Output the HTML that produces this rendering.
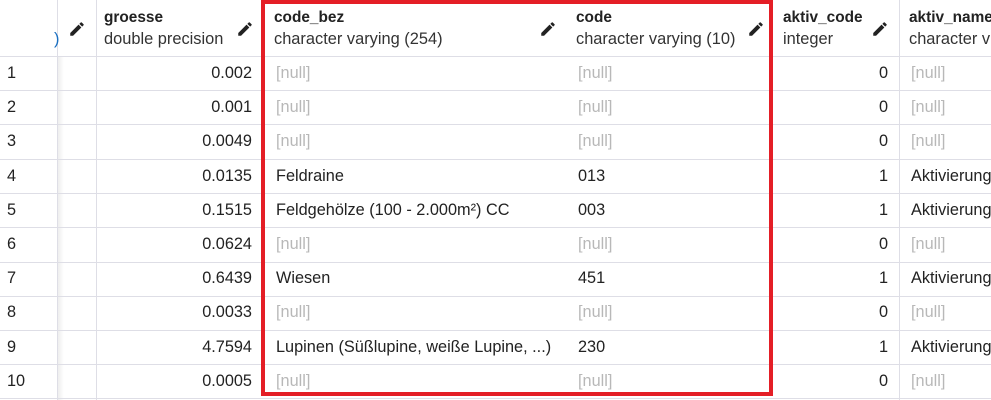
<!DOCTYPE html>
<html><head><meta charset="utf-8"><style>
body{margin:0;width:991px;height:400px;overflow:hidden;background:#fff;font-family:"Liberation Sans",Arial,sans-serif;position:relative;color:#222}
.a{position:absolute;white-space:nowrap}
.h{left:0;width:991px;height:1px;background:#dedee6}
.v{top:0;height:400px;width:1px;background:#dedee6}
.t{font-size:15.4px;font-weight:bold;color:#222}
.s{font-size:16.4px;color:#333}
.c{font-size:16.3px;color:#222}
.n{font-size:16.3px;color:#b8b8b8}
.p{width:18px;height:18px}
</style></head><body>
<div class="a v" style="left:57px"></div>
<div class="a" style="left:58px;top:56px;width:6px;height:344px;background:linear-gradient(90deg,#eee,#fff)"></div>
<div class="a v" style="left:96px"></div>
<div class="a v" style="left:899px"></div>
<div class="a h" style="top:56px"></div>
<div class="a h" style="top:90px"></div>
<div class="a h" style="top:124px"></div>
<div class="a h" style="top:159px"></div>
<div class="a h" style="top:193px"></div>
<div class="a h" style="top:227px"></div>
<div class="a h" style="top:262px"></div>
<div class="a h" style="top:296px"></div>
<div class="a h" style="top:330px"></div>
<div class="a h" style="top:364px"></div>
<div class="a h" style="top:398px"></div>

<div class="a s" style="left:54px;top:30px;color:#1a6fc0">)</div>
<svg class="a p" style="left:68px;top:20px" viewBox="0 0 24 24"><path d="M3 17.25V21h3.75L17.81 9.94l-3.75-3.75L3 17.25zM20.71 7.04a1 1 0 000-1.41l-2.34-2.34a1 1 0 00-1.41 0l-1.83 1.83 3.75 3.75 1.83-1.83z" fill="#222"/></svg>
<div class="a t" style="left:104px;top:9px">groesse</div>
<div class="a s" style="left:104px;top:30px">double precision</div>
<svg class="a p" style="left:236px;top:20px" viewBox="0 0 24 24"><path d="M3 17.25V21h3.75L17.81 9.94l-3.75-3.75L3 17.25zM20.71 7.04a1 1 0 000-1.41l-2.34-2.34a1 1 0 00-1.41 0l-1.83 1.83 3.75 3.75 1.83-1.83z" fill="#222"/></svg>
<div class="a t" style="left:274px;top:9px">code_bez</div>
<div class="a s" style="left:274px;top:30px">character varying (254)</div>
<svg class="a p" style="left:539px;top:20px" viewBox="0 0 24 24"><path d="M3 17.25V21h3.75L17.81 9.94l-3.75-3.75L3 17.25zM20.71 7.04a1 1 0 000-1.41l-2.34-2.34a1 1 0 00-1.41 0l-1.83 1.83 3.75 3.75 1.83-1.83z" fill="#222"/></svg>
<div class="a t" style="left:576px;top:9px">code</div>
<div class="a s" style="left:576px;top:30px">character varying (10)</div>
<svg class="a p" style="left:747px;top:20px" viewBox="0 0 24 24"><path d="M3 17.25V21h3.75L17.81 9.94l-3.75-3.75L3 17.25zM20.71 7.04a1 1 0 000-1.41l-2.34-2.34a1 1 0 00-1.41 0l-1.83 1.83 3.75 3.75 1.83-1.83z" fill="#222"/></svg>
<div class="a t" style="left:783px;top:9px">aktiv_code</div>
<div class="a s" style="left:783px;top:30px">integer</div>
<svg class="a p" style="left:871px;top:20px" viewBox="0 0 24 24"><path d="M3 17.25V21h3.75L17.81 9.94l-3.75-3.75L3 17.25zM20.71 7.04a1 1 0 000-1.41l-2.34-2.34a1 1 0 00-1.41 0l-1.83 1.83 3.75 3.75 1.83-1.83z" fill="#222"/></svg>
<div class="a t" style="left:909px;top:9px">aktiv_name</div>
<div class="a s" style="left:909px;top:30px">character v</div>

<div id="rows"></div>
<script>
var d=[["0.002",null,null,"0",null],["0.001",null,null,"0",null],["0.0049",null,null,"0",null],["0.0135","Feldraine","013","1","Aktivierung"],["0.1515","Feldgehölze (100 - 2.000m²) CC","003","1","Aktivierung"],["0.0624",null,null,"0",null],["0.6439","Wiesen","451","1","Aktivierung"],["0.0033",null,null,"0",null],["4.7594","Lupinen (Süßlupine, weiße Lupine, ...)","230","1","Aktivierung"],["0.0005",null,null,"0",null]];
var h="";
d.forEach(function(r,i){var y=56+i*34.2+8;
function cell(x,v,al){if(v===null)return '<div class="a n" style="left:'+x+'px;top:'+y+'px">[null]</div>';return '<div class="a c" style="'+(al?'right:'+al+'px':'left:'+x+'px')+';top:'+y+'px">'+v+'</div>';}
h+='<div class="a c" style="left:7px;top:'+y+'px">'+(i+1)+'</div>';
h+=cell(0,r[0],991-252);
h+=cell(276,r[1]);h+=cell(578,r[2]);
h+=cell(0,r[3],991-888);
h+=cell(911,r[4]);
});
document.getElementById("rows").innerHTML=h;
</script>
<div class="a" style="left:261px;top:0;width:504px;height:388px;border:4px solid #e41e26"></div>
</body></html>
